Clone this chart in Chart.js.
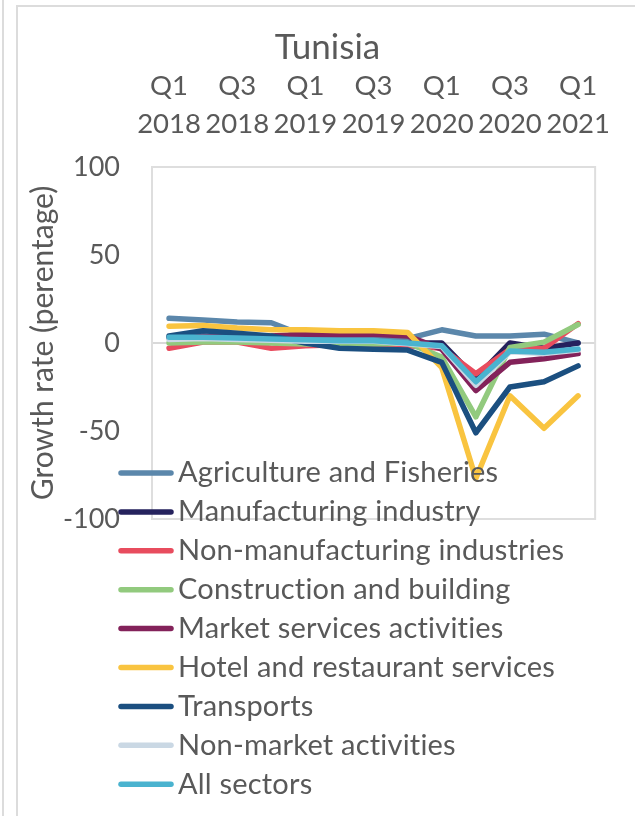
<!DOCTYPE html>
<html>
<head>
<meta charset="utf-8">
<script src="https://cdn.jsdelivr.net/npm/chart.js@4/dist/chart.umd.min.js"></script>
<style>
  html, body { margin: 0; padding: 0; background: #fff; overflow: hidden; }
  .edge { position: absolute; left: 2px; top: 0; width: 2px; height: 816px; background: #dcdcdc; }
  .frame { position: absolute; left: 16px; top: 5px; width: 640px; height: 830px;
           border-left: 2px solid #dcdcdc; border-top: 2px solid #dcdcdc; }
  #chart { position: absolute; left: 0; top: 0; }
</style>
</head>
<body>
<div class="edge"></div>
<div class="frame"></div>
<canvas id="chart" width="635" height="816"></canvas>
<script>
const quarters = [
  'Q1 2018', 'Q2 2018', 'Q3 2018', 'Q4 2018',
  'Q1 2019', 'Q2 2019', 'Q3 2019', 'Q4 2019',
  'Q1 2020', 'Q2 2020', 'Q3 2020', 'Q4 2020',
  'Q1 2021'
];

const agriculture      = [14, 13, 12, 11.5, 4, 4, 3.5, 2.5, 7.5, 4, 4, 5, 0];
const manufacturing    = [3, 4, 3, 2, 1, 1, 0.5, 0, 0, -20, 0, -3, 0];
const nonManufacturing = [-3, 0.5, 0.5, -3, -1.5, -1, -1, -1.5, -3, -17.5, -3.5, -3, 11];
const construction     = [0, 0.5, 0.5, 0, -0.5, -0.5, -0.5, 0, -8, -42, -2.5, 0.5, 10.5];
const marketServices   = [3, 3.5, 3.5, 4, 5, 5, 5, 4, -3.5, -27, -11, -9, -6];
const hotelRestaurant  = [9.5, 10, 8.5, 7.5, 7.5, 7, 7, 6, -14, -77, -30, -48.5, -30];
const transports       = [4, 7, 5.5, 4, 0, -3, -3.5, -4, -11, -51, -25, -22, -13];
const nonMarket        = [2, 2.5, 2, 1.5, 1, 1, 1, -0.5, -2, -24, -5, -6, -4];
const allSectors       = [3.2, 3.2, 2.8, 2.3, 1.8, 1.3, 1.3, 0, -1.5, -22, -4.5, -5.3, -3.4];

const yTicks = [-100, -50, 0, 50, 100];

const series = [
  { label: 'Agriculture and Fisheries', data: agriculture, color: '#5b87ab' },
  { label: 'Manufacturing industry', data: manufacturing, color: '#25225d' },
  { label: 'Non-manufacturing industries', data: nonManufacturing, color: '#e84c5e' },
  { label: 'Construction and building', data: construction, color: '#92ca7e' },
  { label: 'Market services activities', data: marketServices, color: '#83225a' },
  { label: 'Hotel and restaurant services', data: hotelRestaurant, color: '#f9c440' },
  { label: 'Transports', data: transports, color: '#1b4f80' },
  { label: 'Non-market activities', data: nonMarket, color: '#cad8e4' },
  { label: 'All sectors', data: allSectors, color: '#4ab3cf' }
];

const TEXT = '#595959';
const FONT = 'Lato';

// light grey box around the plot area
const plotFrame = {
  id: 'plotFrame',
  beforeDatasetsDraw(chart) {
    const { ctx, chartArea: a } = chart;
    ctx.save();
    ctx.strokeStyle = '#dedede';
    ctx.lineWidth = 2;
    ctx.strokeRect(a.left, a.top, a.right - a.left, a.bottom - a.top);
    ctx.restore();
  }
};

// stacked legend, drawn over the lower part of the plot
const stackedLegend = {
  id: 'stackedLegend',
  afterDraw(chart) {
    const ctx = chart.ctx;
    ctx.save();
    ctx.font = '29px ' + FONT;
    ctx.letterSpacing = '0.2px'; // also keeps Lato from joining "ti"
    ctx.textBaseline = 'middle';
    ctx.fillStyle = TEXT;
    ctx.lineCap = 'round';
    ctx.lineWidth = 5.5;
    chart.data.datasets.forEach((ds, i) => {
      const y = 473 + i * 38.9;
      ctx.strokeStyle = ds.borderColor;
      ctx.beginPath();
      ctx.moveTo(121, y);
      ctx.lineTo(171, y);
      ctx.stroke();
      ctx.fillText(ds.label, 178, y);
    });
    ctx.restore();
  }
};

new Chart(document.getElementById('chart'), {
  type: 'line',
  data: {
    labels: quarters,
    datasets: series.map((s, i) => ({
      label: s.label,
      data: s.data,
      borderColor: s.color,
      backgroundColor: s.color,
      borderWidth: 5.5,
      borderJoinStyle: 'round',
      borderCapStyle: 'round',
      pointRadius: 0,
      tension: 0,
      order: series.length - i
    }))
  },
  options: {
    responsive: false,
    animation: false,
    layout: { padding: { left: 20, right: 0, top: 0, bottom: 297 } },
    plugins: {
      legend: { display: false },
      tooltip: { enabled: false },
      title: {
        display: true,
        text: 'Tunisia',
        color: TEXT,
        font: { family: FONT, size: 35, weight: 'normal', lineHeight: 1.2 },
        padding: { top: 27, bottom: 0 }
      }
    },
    scales: {
      x: {
        position: 'top',
        offset: true,
        grid: { display: false, drawTicks: false },
        border: { display: false },
        ticks: {
          autoSkip: false,
          maxRotation: 0,
          padding: 24,
          color: TEXT,
          font: { family: FONT, size: 27.5, lineHeight: 1.38 },
          callback(value, index) {
            return index % 2 === 0 ? this.getLabelForValue(value).split(' ') : '';
          }
        },
        afterFit(scale) { scale.height = 98; }
      },
      y: {
        min: -100,
        max: 100,
        afterBuildTicks(scale) { scale.ticks = yTicks.map(v => ({ value: v })); },
        grid: {
          drawTicks: false,
          lineWidth: 2,
          color: c => (c.tick && c.tick.value === 0 ? '#d9d9d9' : 'transparent')
        },
        border: { display: false },
        ticks: {
          padding: 32,
          color: TEXT,
          font: { family: FONT, size: 27 }
        },
        title: {
          display: true,
          text: 'Growth rate (perentage)',
          color: TEXT,
          font: { family: FONT, size: 30, lineHeight: 1.2 },
          padding: { top: 5, bottom: 0 }
        },
        afterFit(scale) { scale.width = 132; }
      },
      yRight: {
        position: 'right',
        display: true,
        grid: { display: false, drawTicks: false },
        border: { display: false },
        ticks: { display: false },
        afterFit(scale) { scale.width = 26; }
      }
    }
  },
  plugins: [plotFrame, stackedLegend]
});
</script>
</body>
</html>
